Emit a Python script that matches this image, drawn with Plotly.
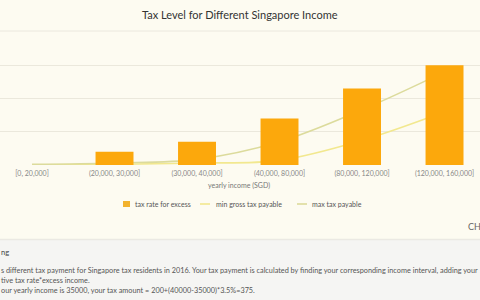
import plotly.graph_objects as go

categories = ["[0, 20,000]", "(20,000, 30,000]", "(30,000, 40,000]",
              "(40,000, 80,000]", "(80,000, 120,000]", "(120,000, 160,000]"]
tax_rate = [0, 2, 3.5, 7, 11.5, 15]
min_gross_tax = [0, 100, 300, 700, 3700, 8000]
max_tax = [100, 300, 850, 3500, 8300, 14000]

W, H = 480, 300
TOP, BASE = 32, 165
PH = BASE - TOP

def px(x):
    return x / W

def py(y):
    return (BASE - y) / PH

FONT = "Lato"
BG = "#fdfbf1"

fig = go.Figure()
fig.add_trace(go.Scatter(x=categories, y=min_gross_tax, mode="lines", name="min gross tax payable",
                         line=dict(color="#f2e88f", width=1.6, shape="spline"), yaxis="y"))
fig.add_trace(go.Scatter(x=categories, y=max_tax, mode="lines", name="max tax payable",
                         line=dict(color="#dcdb9c", width=1.6, shape="spline"), yaxis="y"))
fig.add_trace(go.Bar(x=categories, y=tax_rate, name="tax rate for excess", width=0.46,
                     marker=dict(color="#fca80c", line=dict(width=0)), yaxis="y2"))

shapes = [
    dict(type="line", xref="paper", yref="paper", x0=0, x1=1, y0=py(31), y1=py(31),
         line=dict(color="#ebe8de", width=1), layer="below"),
    dict(type="rect", xref="paper", yref="paper", x0=0, x1=1, y0=py(300), y1=py(239.5),
         fillcolor="#f5f5f3", line=dict(width=0), layer="below"),
    dict(type="line", xref="paper", yref="paper", x0=0, x1=1, y0=py(239.5), y1=py(239.5),
         line=dict(color="#ebe9e3", width=1.5), layer="below"),
    # legend symbols
    dict(type="rect", xref="paper", yref="paper", x0=px(123), x1=px(130), y0=py(207), y1=py(201),
         fillcolor="#f2b22e", line=dict(width=0)),
    dict(type="line", xref="paper", yref="paper", x0=px(200), x1=px(210), y0=py(204), y1=py(204),
         line=dict(color="#f2e88f", width=1.6)),
    dict(type="line", xref="paper", yref="paper", x0=px(297), x1=px(307), y0=py(204), y1=py(204),
         line=dict(color="#dcdb9c", width=1.6)),
]

def ann(text, x, y, size, color, xanchor="left", weight="normal"):
    return dict(text=text, x=px(x), y=py(y), xref="paper", yref="paper", showarrow=False,
                xanchor=xanchor, yanchor="middle",
                font=dict(family=FONT, size=size, color=color, weight=weight))

annotations = [
    ann("Tax Level for Different Singapore Income", 240, 14.5, 11, "#333333", "center"),
    ann("yearly income (SGD)", 238.5, 185, 7, "#777777", "center"),
    ann("tax rate for excess", 133, 204, 7, "#555555"),
    ann("min gross tax payable", 214, 204, 7, "#555555"),
    ann("max tax payable", 310, 204, 7, "#555555"),
    ann("CH", 466, 226, 9, "#666666"),
    ann("ng", -1, 252, 7.5, "#444444"),
    ann("s different tax payment for Singapore tax residents in 2016. Your tax payment is calculated by finding your corresponding income interval, adding your",
        -1, 270, 7.3, "#555555"),
    ann("tive tax rate*excess income.", -1, 280, 7.3, "#555555"),
    ann("our yearly income is 35000, your tax amount = 200+(40000-35000)*3.5%=375.", -1, 290, 7.3, "#555555"),
]

fig.update_layout(
    width=W, height=H, autosize=False,
    margin=dict(l=0, r=0, t=TOP, b=H - BASE, pad=0),
    paper_bgcolor=BG, plot_bgcolor="rgba(0,0,0,0)",
    showlegend=False,
    font=dict(family=FONT),
    xaxis=dict(type="category", range=[-0.388, 5.43], showgrid=False, zeroline=False,
               showline=False, ticks="", ticklabelstandoff=3,
               tickfont=dict(size=7, color="#888888", family=FONT)),
    yaxis=dict(range=[0, 20000], showgrid=False, zeroline=False, showticklabels=False),
    yaxis2=dict(range=[0, 20], dtick=5, overlaying="y", side="left", showgrid=True,
                gridcolor="#ebe8dc", gridwidth=1, zeroline=False, showticklabels=False),
    shapes=shapes,
    annotations=annotations,
)

fig.write_html("out.html")
